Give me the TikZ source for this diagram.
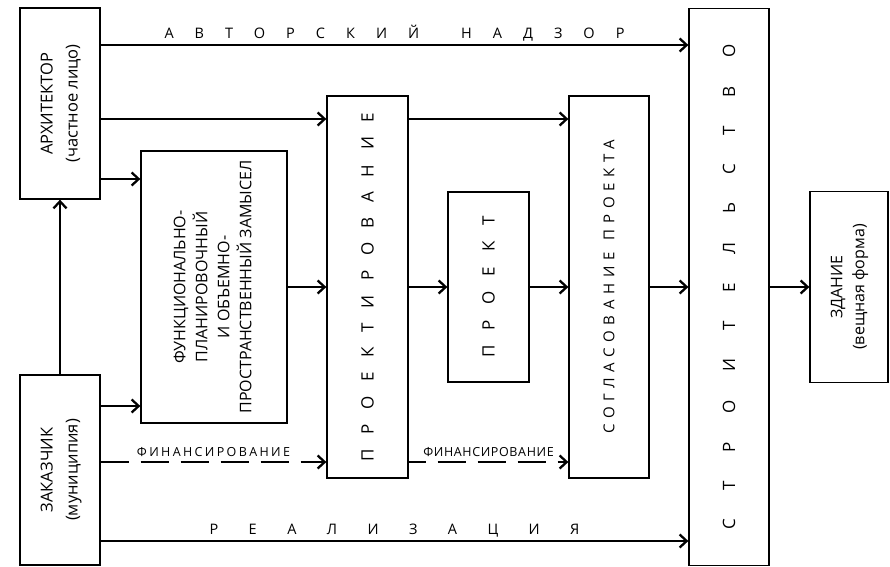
\documentclass[tikz,border=0pt]{standalone}
\usepackage{fontspec}
\setmainfont{Open Sans}
\usepackage{graphicx}
\usetikzlibrary{arrows.meta}
% letter-spaced text
\newcommand{\spread}[2]{{\addfontfeature{LetterSpace=#1}#2}}
\newcommand{\vtext}[1]{\rotatebox{90}{\begin{tabular}{@{}c@{}}#1\end{tabular}}}

\begin{document}
\begin{tikzpicture}[x=1pt,y=-1pt,
  box/.style={draw,line width=1.3pt,inner sep=0pt},
  arr/.style={line width=2.3pt,-{Straight Barb[length=7pt,width=13pt]}},
  fin/.style={arr,dash pattern=on 28pt off 12pt},
  lbl/.style={font=\fontsize{14.5}{17}\selectfont,above=3pt,midway,inner sep=0pt},
  finlbl/.style={font=\fontsize{12.5}{15}\selectfont,above=4pt,midway,inner sep=0pt},
  who/.style={font=\fontsize{16.5}{25}\selectfont},
  big/.style={font=\fontsize{17}{20}\selectfont}]
  \useasboundingbox (0,0) rectangle (890,566);

  % boxes
  \node[box,who,minimum width=80pt,minimum height=191pt] (arch) at (60,103.5)
    {\vtext{АРХИТЕКТОР\\(частное лицо)}};
  \node[box,who,minimum width=80pt,minimum height=190pt] (zakaz) at (60,470)
    {\vtext{ЗАКАЗЧИК\\(муниципия)}};
  \node[box,font=\fontsize{16}{22}\selectfont,minimum width=146pt,minimum height=272pt] (funkc) at (214,287)
    {\vtext{ФУНКЦИОНАЛЬНО-\\ПЛАНИРОВОЧНЫЙ\\И ОБЪЕМНО-\\ПРОСТРАНСТВЕННЫЙ ЗАМЫСЕЛ}};
  \node[box,big,minimum width=81pt,minimum height=382pt] (proekt) at (367.5,287)
    {\rotatebox{90}{\spread{86}{ПРОЕКТИРОВАНИЕ}}};
  \node[box,big,minimum width=81pt,minimum height=190pt] (proj) at (488.5,287)
    {\rotatebox{90}{\spread{90}{ПРОЕКТ}}};
  \node[box,font=\fontsize{15}{18}\selectfont,minimum width=80pt,minimum height=382pt] (soglas) at (609,287)
    {\rotatebox{90}{\spread{38}{СОГЛАСОВАНИЕ}\hspace{12pt}\spread{38}{ПРОЕКТА}}};
  \node[box,big,minimum width=80pt,minimum height=557pt] (stroit) at (729,287)
    {\rotatebox{90}{\spread{168}{СТРОИТЕЛЬСТВО}}};
  \node[box,font=\fontsize{16}{22}\selectfont,minimum width=78pt,minimum height=191pt] (zdanie) at (849,287)
    {\vtext{ЗДАНИЕ\\(вещная форма)}};

  % levels of the connectors
  \coordinate (lvNadzor) at (0,45);
  \coordinate (lvTop) at (0,119);
  \coordinate (lvFunk) at (0,179);
  \coordinate (lvZak) at (0,406);
  \coordinate (lvFin) at (0,462);
  \coordinate (lvReal) at (0,541);

  % connectors
  \draw[arr] (arch.east |- lvNadzor) -- node[lbl]{\spread{145}{АВТОРСКИЙ}\hspace{42pt}\spread{145}{НАДЗОР}} (stroit.west |- lvNadzor);
  \draw[arr] (arch.east |- lvTop) -- (proekt.west |- lvTop);
  \draw[arr] (proekt.east |- lvTop) -- (soglas.west |- lvTop);
  \draw[arr] (arch.east |- lvFunk) -- (funkc.west |- lvFunk);
  \draw[arr] (zakaz.east |- lvZak) -- (funkc.west |- lvZak);
  \draw[arr] (zakaz.north) -- (arch.south);
  \draw[fin] (zakaz.east |- lvFin) -- node[finlbl]{\spread{19}{ФИНАНСИРОВАНИЕ}} (proekt.west |- lvFin);
  \draw[fin,dash phase=11pt] (proekt.east |- lvFin) -- node[finlbl]{\spread{5}{ФИНАНСИРОВАНИЕ}} (soglas.west |- lvFin);
  \draw[arr] (zakaz.east |- lvReal) -- node[lbl]{\spread{210}{РЕАЛИЗАЦИЯ}} (stroit.west |- lvReal);
  \draw[arr] (funkc) -- (proekt);
  \draw[arr] (proekt) -- (proj);
  \draw[arr] (proj) -- (soglas);
  \draw[arr] (soglas) -- (stroit);
  \draw[arr] (stroit) -- (zdanie);
\end{tikzpicture}
\end{document}
